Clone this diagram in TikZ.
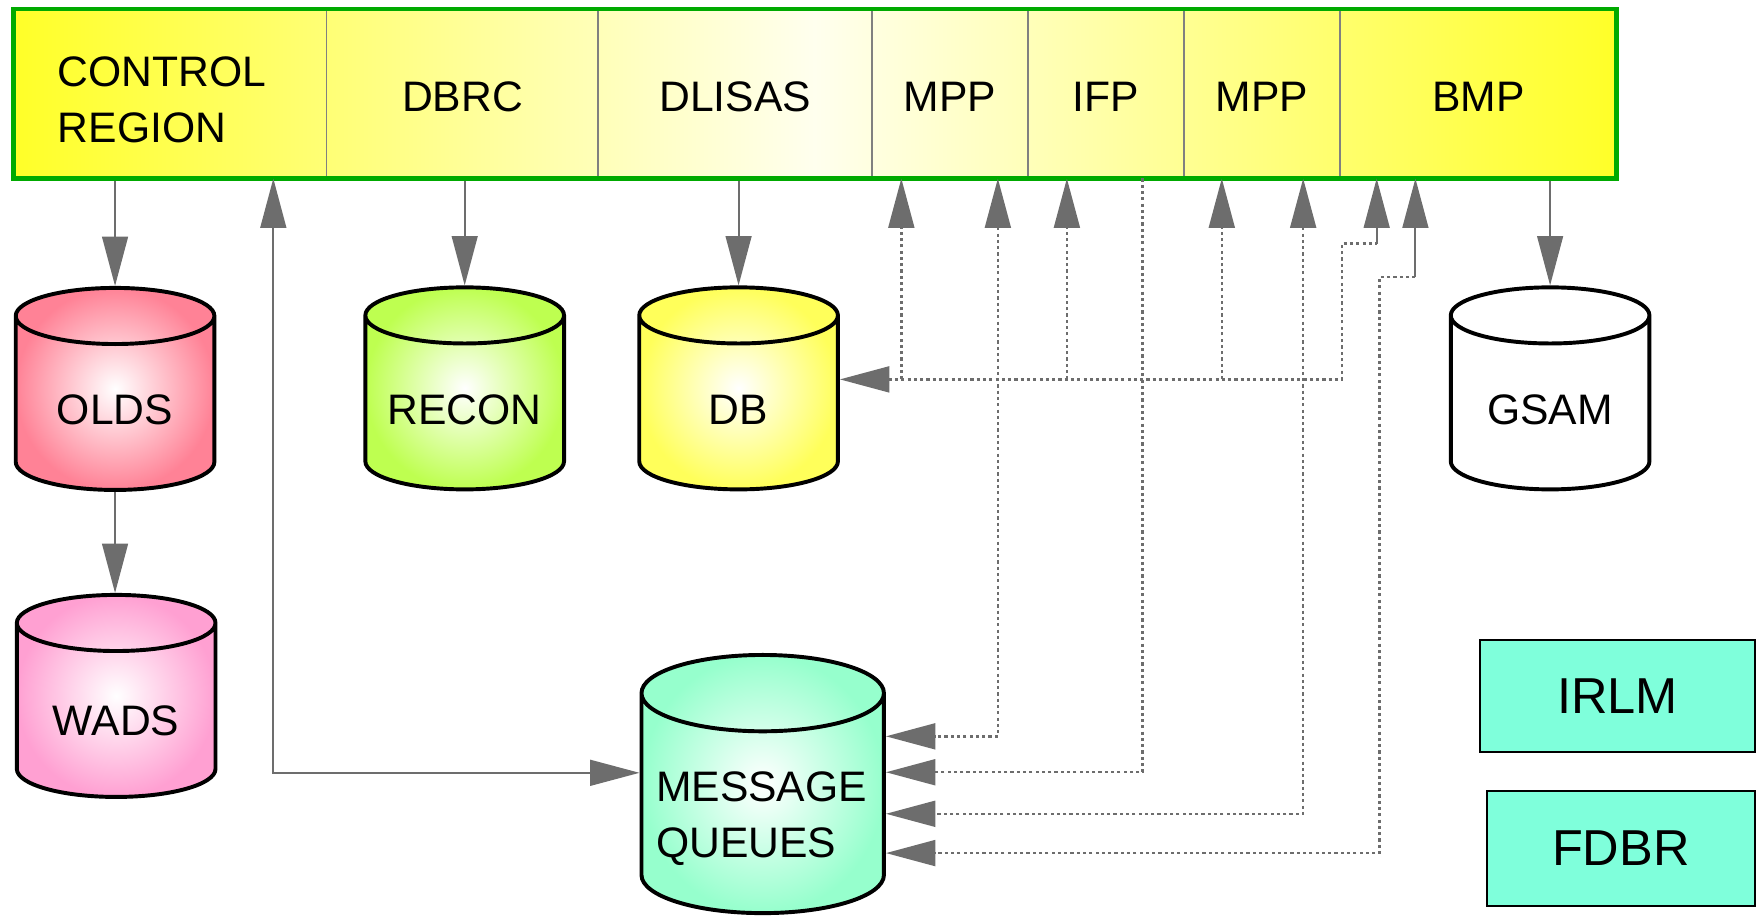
\documentclass[tikz,border=0pt]{standalone}
\usepackage{fontspec}
\setmainfont{Liberation Sans}
\usetikzlibrary{matrix,
	positioning,
	calc,
	shapes.geometric,
	arrows.meta}
\definecolor{framegreen}{RGB}{0,170,0}
\definecolor{linegray}{RGB}{109,109,109}
\definecolor{divgray}{RGB}{128,128,128}
\definecolor{regionyellow}{RGB}{255,255,40}
\definecolor{regionlight}{RGB}{255,255,238}
\definecolor{oldsred}{RGB}{255,130,150}
\definecolor{wadspink}{RGB}{255,160,210}
\definecolor{recongreen}{RGB}{190,255,80}
\definecolor{dbyellow}{RGB}{255,255,90}
\definecolor{mqgreen}{RGB}{150,255,205}
\definecolor{boxgreen}{RGB}{127,255,219}
\tikzstyle{regionbar}=[draw=framegreen, line width=4pt, inner sep=0pt,
		left color=regionyellow, right color=regionyellow, middle color=regionlight,
		ampersand replacement=\&, column sep=0pt]
\tikzstyle{cell}=[anchor=center, minimum height=151pt, inner sep=0pt, outer sep=0pt,
		align=left, text height=31.2pt, text depth=0pt, font=\fontsize{38}{50}\selectfont]
\tikzstyle{divider}=[draw=divgray, line width=1.5pt]
\tikzstyle{dataset}=[cylinder, shape border rotate=90, draw=black, line width=3.5pt,
		inner sep=0pt, text width=160pt, align=center, text height=37.2pt, text depth=0pt,
		minimum width=177pt, minimum height=180pt, aspect=0.3125, anchor=shape center,
		font=\fontsize{38}{50}\selectfont]
\tikzstyle{module}=[draw=black, line width=1.8pt, fill=boxgreen, inner sep=0pt,
		font=\fontsize{45}{54}\selectfont]
\tikzstyle{flow}=[draw=linegray, line width=1.8pt]
\tikzstyle{dotflow}=[flow, line width=2.2pt, dash pattern=on 2.8pt off 2.8pt]

\begin{document}
\begin{tikzpicture}[x=1pt, y=-1pt, >={Triangle[length=44pt, width=23pt]}]
	\useasboundingbox (0,0) rectangle (1568,817);
	\matrix (bar) [regionbar] at (726,83.5) {
		\node[cell, minimum width=279pt, text width=200pt, text height=37.2pt,
			text depth=50pt] (ctrl) {CONTROL\\REGION}; \&
		\node[cell, minimum width=242pt] (dbrc) {DBRC}; \&
		\node[cell, minimum width=244pt] (dlisas) {DLISAS}; \&
		\node[cell, minimum width=139pt] (mppa) {MPP}; \&
		\node[cell, minimum width=139pt] (ifp) {IFP}; \&
		\node[cell, minimum width=139pt] (mppb) {MPP}; \&
		\node[cell, minimum width=246pt] (bmp) {BMP}; \\
	};
	\draw[divider] ([yshift=-2pt]dbrc.north west) -- ([yshift=2pt]dbrc.south west);
	\draw[divider] ([yshift=-2pt]dlisas.north west) -- ([yshift=2pt]dlisas.south west);
	\draw[divider] ([yshift=-2pt]mppa.north west) -- ([yshift=2pt]mppa.south west);
	\draw[divider] ([yshift=-2pt]ifp.north west) -- ([yshift=2pt]ifp.south west);
	\draw[divider] ([yshift=-2pt]mppb.north west) -- ([yshift=2pt]mppb.south west);
	\draw[divider] ([yshift=-2pt]bmp.north west) -- ([yshift=2pt]bmp.south west);

	% data sets
	\node[dataset, inner color=white, outer color=oldsred] (olds) at (102.5,346.5) {OLDS};
	\node[dataset, inner color=white, outer color=wadspink, text height=43.2pt] (wads) at (103.5,620) {WADS};
	\node[dataset, inner color=white, outer color=recongreen] (recon) at (414,346) {RECON};
	\node[dataset, inner color=white, outer color=dbyellow] (db) at (658,346) {DB};
	\node[dataset, fill=white] (gsam) at (1381,346) {GSAM};
	\node[dataset, inner color=white, outer color=mqgreen, minimum width=216pt,
		minimum height=230pt, text width=190pt, text height=45.2pt, text depth=50pt,
		aspect=0.358, align=left] (mq) at (679.5,698.5) {MESSAGE\\QUEUES};
	\node[module, minimum width=245pt, minimum height=100pt] (irlm) at (1441,620) {IRLM};
	\node[module, minimum width=239pt, minimum height=102pt] (fdbr) at (1444,756) {FDBR};

	% solid connectors
	\draw[flow, ->] (olds.north |- bar.south) -- (olds.north);
	\draw[flow, ->] (olds.south) -- (olds.south |- wads.north);
	\draw[flow, ->] (recon.north |- bar.south) -- (recon.north);
	\draw[flow, ->] (db.north |- bar.south) -- (db.north);
	\draw[flow, ->] (gsam.north |- bar.south) -- (gsam.north);
	\coordinate (mq-w) at (mq.west |- mq.shape center);
	\coordinate (mq-e) at (mq.east |- mq.shape center);
	\draw[flow, <->] ([xshift=92pt]ctrl.south) |- ([yshift=10pt]mq-w);

	% taps under the regions
	\coordinate (mppa-db) at ([xshift=-43.5pt]mppa.south);
	\coordinate (mppa-mq) at ([xshift=42.5pt]mppa.south);
	\coordinate (ifp-db) at ([xshift=-35pt]ifp.south);
	\coordinate (ifp-mq) at ([xshift=32.5pt]ifp.south);
	\coordinate (mppb-db) at ([xshift=-36pt]mppb.south);
	\coordinate (mppb-mq) at ([xshift=36.5pt]mppb.south);
	\coordinate (bmp-db) at ([xshift=-90.5pt]bmp.south);
	\coordinate (bmp-mq) at ([xshift=-56pt]bmp.south);
	\coordinate (bmp-db-turn) at ([yshift=-58pt]bmp-db);
	\coordinate (bmp-mq-turn) at ([yshift=-88pt]bmp-mq);
	\coordinate (db-e) at (db.east |- db.shape center);
	\coordinate (bus) at ([yshift=8pt]db-e);

	% DB bus
	\draw[dotflow, <-] (bus) -| ([xshift=-31pt]bmp-db-turn) -- (bmp-db-turn);
	\draw[flow, ->] (bmp-db-turn) -- (bmp-db);
	\draw[dotflow, ->] (bus -| mppa-db) -- (mppa-db);
	\draw[dotflow, ->] (bus -| ifp-db) -- (ifp-db);
	\draw[dotflow, ->] (bus -| mppb-db) -- (mppb-db);

	% message queue lines
	\draw[dotflow, <->] (mppa-mq) |- ([yshift=42.5pt]mq-e);
	\draw[dotflow, ->] (ifp-mq) |- ([yshift=10.5pt]mq-e);
	\draw[dotflow, <->] (mppb-mq) |- ([yshift=-26.5pt]mq-e);
	\draw[dotflow, ->] (bmp-mq-turn) -- ++(-32pt,0) |- ([yshift=-61.5pt]mq-e);
	\draw[flow, ->] (bmp-mq-turn) -- (bmp-mq);
\end{tikzpicture}
\end{document}
